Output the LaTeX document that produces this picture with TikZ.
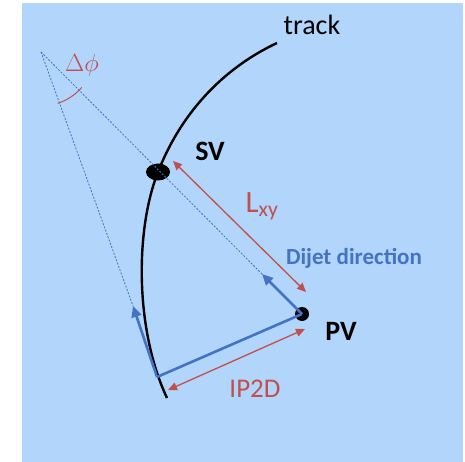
\documentclass[tikz,border=0pt]{standalone}
\usepackage{fontspec}
\setmainfont{Carlito}
\usetikzlibrary{arrows.meta,shapes.geometric}
\definecolor{bgblue}{RGB}{178,214,251}
\definecolor{dirblue}{RGB}{68,114,196}
\definecolor{lenred}{RGB}{192,80,77}
\tikzset{
  track/.style={line width=2.4pt,black},
  vtx/.style={fill=black,inner sep=0pt},
  dirline/.style={line width=2.6pt,dirblue},
  dirarrow/.style={dirline,-{Triangle[width=10pt,length=11pt]}},
  guide/.style={dirblue,line width=0.8pt,dash pattern=on 2pt off 1.5pt},
  lenarrow/.style={lenred,line width=1.3pt,{Triangle[width=8pt,length=9pt]}-{Triangle[width=8pt,length=9pt]}},
  lab/.style={font=\fontsize{28}{32}\selectfont},
  blab/.style={font=\fontsize{28}{32}\selectfont\bfseries},
}
\begin{document}
\begin{tikzpicture}[x=1pt,y=-1pt]
  \useasboundingbox (0,0) rectangle (465,462);
  \fill[bgblue] (22,3) rectangle (463,462);
  % vertices
  \node[vtx,ellipse,minimum width=24pt,minimum height=17pt] (sv) at (158,172) {};
  \node[vtx,circle,minimum size=14pt] (pv) at (302,314) {};
  \coordinate (apex) at (41,52);
  \coordinate (ip) at (157,377);
  \coordinate (ipdir) at (133,306);
  \coordinate (jetdir) at (262,274);
  % track
  \draw[track] (167,398) .. controls (135,330) and (135,230) .. (sv.center)
    .. controls (183,108) and (228,66) .. (277,43);
  % dashed guides
  \draw[guide] (apex) -- (jetdir);
  \draw[guide] (apex) -- (ipdir);
  \draw[lenred,line width=1pt] (apex) ++(41:54) arc[start angle=41,end angle=72,radius=54];
  % directions
  \draw[dirline] (ip) -- (pv.center);
  \draw[dirarrow] (ip) -- (ipdir);
  \draw[dirarrow] (pv.center) -- (jetdir);
  % lengths
  \coordinate (lxyA) at (173,161);
  \coordinate (lxyB) at (306,292);
  \coordinate (ipA) at (168,390);
  \coordinate (ipB) at (305,329);
  \draw[lenarrow] (lxyA) -- (lxyB);
  \draw[lenarrow] (ipA) -- (ipB);
  % labels
  \node[lab] (tracklab) at (312,25) {track};
  \node[blab] (svlab) at (210,151) {SV};
  \node[blab] (pvlab) at (341,331) {PV};
  \node[font=\fontsize{23}{27}\selectfont\bfseries,text=dirblue] (jetlab) at (354,258) {Dijet direction};
  \node[font=\fontsize{31}{34}\selectfont,text=lenred] (lxylab) at (262,206) {L\textsubscript{xy}};
  \node[font=\fontsize{27}{30}\selectfont,text=lenred] (iplab) at (255,389) {IP2D};
  \node[font=\fontsize{24}{27}\selectfont,text=lenred] (dphilab) at (82,65) {$\Delta\phi$};
\end{tikzpicture}
\end{document}
